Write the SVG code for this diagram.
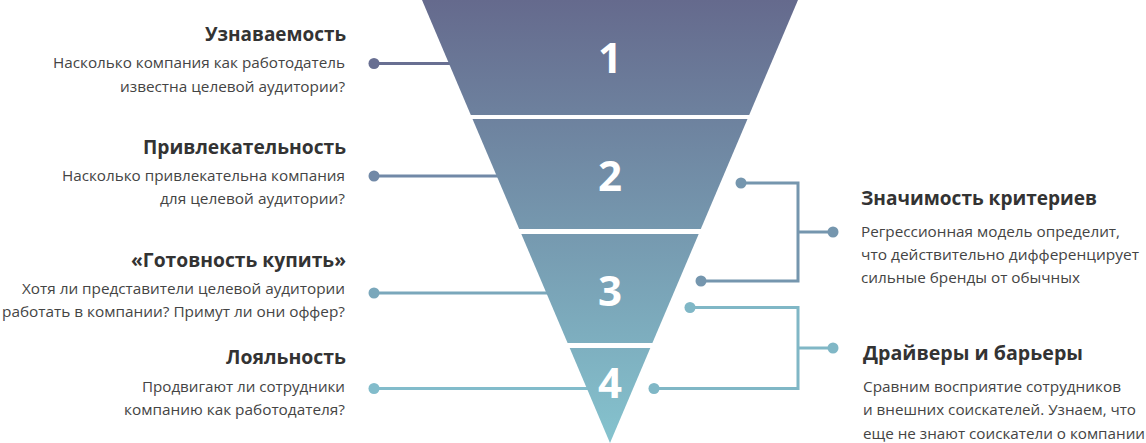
<svg xmlns="http://www.w3.org/2000/svg" width="1146" height="443" viewBox="0 0 1146 443">
<defs>
<linearGradient id="fg" gradientUnits="userSpaceOnUse" x1="0" y1="0" x2="0" y2="443">
<stop offset="0" stop-color="#656a8d"/>
<stop offset="1" stop-color="#85c3ce"/>
</linearGradient>
<style>
.t{font-family:"Open Sans","Noto Sans",sans-serif;font-weight:700;font-size:20px;fill:#333333}
.s{font-family:"Open Sans","Noto Sans",sans-serif;font-size:14.5px;fill:#444444}
.n{font-family:"Open Sans","Noto Sans",sans-serif;font-weight:700;font-size:42px;fill:#ffffff;text-anchor:middle}
.r{text-anchor:end}
.c{fill:none;stroke-width:3}
</style>
</defs>
<rect width="1146" height="443" fill="#ffffff"/>
<g id="connectors">
<line class="c" x1="374" y1="63.5" x2="470" y2="63.5" stroke="#686f92"/>
<circle cx="374" cy="63.5" r="5.5" fill="#686f92"/>
<line class="c" x1="374" y1="176" x2="500" y2="176" stroke="#7189a7"/>
<circle cx="374" cy="176" r="5.5" fill="#7189a7"/>
<line class="c" x1="374" y1="293" x2="560" y2="293" stroke="#7aa7bb"/>
<circle cx="374" cy="293" r="5.5" fill="#7aa7bb"/>
<line class="c" x1="374" y1="388.5" x2="600" y2="388.5" stroke="#82bccb"/>
<circle cx="374" cy="388.5" r="5.5" fill="#82bccb"/>
<polyline class="c" points="741,183 798,183 798,281 701,281" stroke="#7596ae"/>
<line class="c" x1="798" y1="232" x2="833" y2="232" stroke="#7596ae"/>
<circle cx="741" cy="183" r="5.5" fill="#7596ae"/>
<circle cx="701" cy="281" r="5.5" fill="#7596ae"/>
<circle cx="833" cy="232" r="5.5" fill="#7596ae"/>
<polyline class="c" points="690,307.5 798,307.5 798,388.5 654,388.5" stroke="#80b7c6"/>
<line class="c" x1="798" y1="348" x2="833" y2="348" stroke="#80b7c6"/>
<circle cx="690" cy="307.5" r="5.5" fill="#80b7c6"/>
<circle cx="654" cy="388.5" r="5.5" fill="#80b7c6"/>
<circle cx="833" cy="348" r="5.5" fill="#80b7c6"/>
</g>
<g id="band1">
<polygon points="422,0 798,0 749.2,115 470.8,115" fill="url(#fg)"/>
<text class="n" x="610" y="73">1</text>
</g>
<g id="band2">
<polygon points="472.5,119 747.5,119 700.8,229 519.2,229" fill="url(#fg)"/>
<text class="n" x="610" y="191">2</text>
</g>
<g id="band3">
<polygon points="521.3,234 698.7,234 652.4,343 567.6,343" fill="url(#fg)"/>
<text class="n" x="610" y="306">3</text>
</g>
<g id="band4">
<polygon points="569.7,348 650.3,348 610,443" fill="url(#fg)"/>
<text class="n" x="610" y="398">4</text>
</g>
<g id="label1">
<text class="t r" x="346" y="41" textLength="141" lengthAdjust="spacingAndGlyphs">Узнаваемость</text>
<text class="s r" x="345" y="68" textLength="292" lengthAdjust="spacingAndGlyphs">Насколько компания как работодатель</text>
<text class="s r" x="345" y="92" textLength="225" lengthAdjust="spacingAndGlyphs">известна целевой аудитории?</text>
</g>
<g id="label2">
<text class="t r" x="346" y="154" textLength="203" lengthAdjust="spacingAndGlyphs">Привлекательность</text>
<text class="s r" x="345" y="181" textLength="283" lengthAdjust="spacingAndGlyphs">Насколько привлекательна компания</text>
<text class="s r" x="345" y="204" textLength="185" lengthAdjust="spacingAndGlyphs">для целевой аудитории?</text>
</g>
<g id="label3">
<text class="t r" x="346" y="267" textLength="215" lengthAdjust="spacingAndGlyphs">«Готовность купить»</text>
<text class="s r" x="345" y="294" textLength="323" lengthAdjust="spacingAndGlyphs">Хотя ли представители целевой аудитории</text>
<text class="s r" x="345" y="317" textLength="343" lengthAdjust="spacingAndGlyphs">работать в компании? Примут ли они оффер?</text>
</g>
<g id="label4">
<text class="t r" x="346" y="364" textLength="120" lengthAdjust="spacingAndGlyphs">Лояльность</text>
<text class="s r" x="345" y="392" textLength="203" lengthAdjust="spacingAndGlyphs">Продвигают ли сотрудники</text>
<text class="s r" x="345" y="415" textLength="221" lengthAdjust="spacingAndGlyphs">компанию как работодателя?</text>
</g>
<g id="label5">
<text class="t" x="861" y="205" textLength="236" lengthAdjust="spacingAndGlyphs">Значимость критериев</text>
<text class="s" x="861" y="237" textLength="259" lengthAdjust="spacingAndGlyphs">Регрессионная модель определит,</text>
<text class="s" x="861" y="260" textLength="278" lengthAdjust="spacingAndGlyphs">что действительно дифференцирует</text>
<text class="s" x="861" y="283" textLength="219" lengthAdjust="spacingAndGlyphs">сильные бренды от обычных</text>
</g>
<g id="label6">
<text class="t" x="863" y="360" textLength="220" lengthAdjust="spacingAndGlyphs">Драйверы и барьеры</text>
<text class="s" x="863" y="392" textLength="258" lengthAdjust="spacingAndGlyphs">Сравним восприятие сотрудников</text>
<text class="s" x="863" y="415" textLength="273" lengthAdjust="spacingAndGlyphs">и внешних соискателей. Узнаем, что</text>
<text class="s" x="863" y="439" textLength="282" lengthAdjust="spacingAndGlyphs">еще не знают соискатели о компании</text>
</g>
</svg>
